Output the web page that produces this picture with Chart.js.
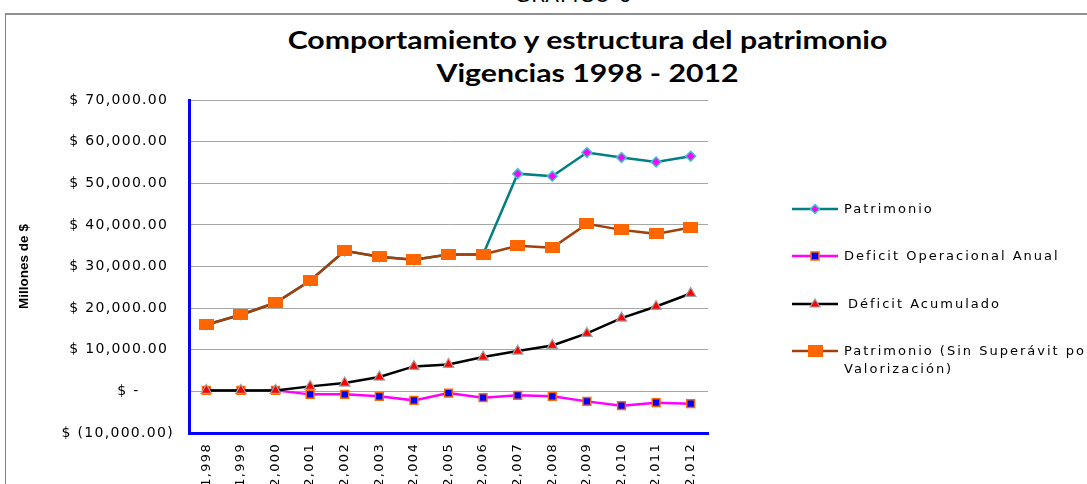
<!DOCTYPE html>
<html><head><meta charset="utf-8">
<script src="https://cdn.jsdelivr.net/npm/chart.js@4"></script>
<style>
html,body{margin:0;padding:0;background:#fff;overflow:hidden;}
#wrap{position:relative;width:1087px;height:484px;overflow:hidden;}
#frame{position:absolute;left:5px;top:13px;width:1100px;height:500px;border-left:1px solid #808080;border-top:2px solid #909090;}
#top{position:absolute;left:0;width:1087px;top:-17px;text-align:center;font:20px "DejaVu Sans";color:#000;letter-spacing:1px;padding-left:60px;box-sizing:border-box;}
.title{position:absolute;left:237px;width:701px;text-align:center;font:bold 24px Lato;color:#000;transform:scaleX(1.26);transform-origin:50% 50%;white-space:nowrap;}
canvas{position:absolute;left:0;top:0;}
.leg{position:absolute;left:792px;font:13px "DejaVu Sans";color:#000;letter-spacing:2px;white-space:nowrap;line-height:18px;}
.leg svg{position:absolute;left:0;top:1px;}
.leg span{position:absolute;left:52px;top:0;}
</style></head>
<body><div id="wrap">
<div id="frame"></div>
<div id="top">GRAFICO 6</div>
<div class="title" style="top:25px">Comportamiento y estructura del patrimonio</div>
<div class="title" style="top:58px">Vigencias 1998 - 2012</div>
<canvas id="c" width="1087" height="484"></canvas>
<div class="leg" style="top:200px"><svg width="46" height="16"><line x1="0" y1="8" x2="46" y2="8" stroke="#008080" stroke-width="2.5"/><polygon points="23,3.5 27.5,8 23,12.5 18.5,8" fill="#ff00ff" stroke="#33cccc" stroke-width="1.5"/></svg><span>Patrimonio</span></div>
<div class="leg" style="top:247px"><svg width="46" height="16"><line x1="0" y1="8" x2="46" y2="8" stroke="#ff00ff" stroke-width="2.5"/><rect x="19" y="4" width="8" height="8" fill="#0000ff" stroke="#ff6600" stroke-width="1.5"/></svg><span>Deficit Operacional Anual</span></div>
<div class="leg" style="top:295px"><svg width="46" height="16"><line x1="0" y1="8" x2="46" y2="8" stroke="#000" stroke-width="2.5"/><polygon points="23,3 28,11 18,11" fill="#ff0000" stroke="#a0a0a0" stroke-width="1.2"/></svg><span style="left:56px">Déficit Acumulado</span></div>
<div class="leg" style="top:342px"><svg width="46" height="16"><line x1="0" y1="8" x2="46" y2="8" stroke="#a0410d" stroke-width="2.5"/><rect x="16" y="2" width="15" height="12" fill="#ff6600"/></svg><span>Patrimonio (Sin Superávit po<br>Valorización)</span></div>
</div>
<script>
const categories = ['1,998','1,999','2,000','2,001','2,002','2,003','2,004','2,005','2,006','2,007','2,008','2,009','2,010','2,011','2,012'];
const patrimonio = [16000,18400,21280,26560,33760,32320,31600,32880,32880,52300,51700,57400,56200,55100,56500];
const deficitOperacional = [240,240,240,-720,-720,-1200,-2160,-400,-1520,-960,-1200,-2400,-3440,-2720,-2960];
const deficitAcumulado = [240,240,240,1200,2000,3440,6000,6480,8240,9680,11040,13920,17600,20400,23520];
const patrimonioSinSuperavit = [16000,18400,21280,26560,33760,32320,31600,32880,32880,34960,34480,40240,38800,37840,39360];
const yTickValues = [-10000,0,10000,20000,30000,40000,50000,60000,70000];
const yTickLabels = ['$ (10,000.00)','$ -      ','$ 10,000.00 ','$ 20,000.00 ','$ 30,000.00 ','$ 40,000.00 ','$ 50,000.00 ','$ 60,000.00 ','$ 70,000.00 '];

// marker image for the orange rectangles (15x11)
const orangeMark = document.createElement('canvas');
orangeMark.width = 15; orangeMark.height = 11;
(function(){ const g = orangeMark.getContext('2d'); g.fillStyle = '#ff6600'; g.fillRect(0,0,15,11); })();

const spacing = {
  id:'spacing',
  beforeUpdate(chart){ chart.ctx.letterSpacing = '1.3px'; },
  beforeDraw(chart){
    chart.ctx.letterSpacing = '1.3px';
    const s = chart.scales.y;
    if (s && !s._wrappedTitle) {
      const orig = s.drawTitle.bind(s);
      s.drawTitle = function(){ chart.ctx.letterSpacing = '0px'; orig(); chart.ctx.letterSpacing = '1.3px'; };
      s._wrappedTitle = true;
    }
  }
};

new Chart(document.getElementById('c'), {
  type: 'line',
  plugins:[spacing],
  data: {
    labels: categories,
    datasets: [
      {label:'Patrimonio', data:patrimonio, borderColor:'#008080', borderWidth:2.5, pointStyle:'rectRot', pointRadius:5, pointBackgroundColor:'#ff00ff', pointBorderColor:'#33cccc', pointBorderWidth:1.5, order:3, tension:0},
      {label:'Deficit Operacional Anual', data:deficitOperacional, borderColor:'#ff00ff', borderWidth:2.5, pointStyle:'rect', pointRadius:5.5, pointBackgroundColor:'#0000ff', pointBorderColor:'#ff6600', pointBorderWidth:1.5, order:2, tension:0},
      {label:'Déficit Acumulado', data:deficitAcumulado, borderColor:'#000000', borderWidth:2.5, pointStyle:'triangle', pointRadius:6, pointBackgroundColor:'#ff0000', pointBorderColor:'#a0a0a0', pointBorderWidth:1.2, order:1, tension:0},
      {label:'Patrimonio (Sin Superávit po Valorización)', data:patrimonioSinSuperavit, borderColor:'#a0410d', borderWidth:2.5, pointStyle:orangeMark, pointRadius:8, order:0, tension:0}
    ]
  },
  options: {
    responsive:false, animation:false,
    layout:{padding:{left:12, top:100, right:379, bottom:0}},
    plugins:{legend:{display:false}, title:{display:false}, tooltip:{enabled:false}},
    scales:{
      x:{
        offset:true,
        grid:{display:false, drawTicks:false},
        border:{color:'#0000ff', width:3},
        ticks:{maxRotation:90, minRotation:90, padding:10, autoSkip:false, color:'#000', font:{family:'DejaVu Sans', size:13}},
        afterFit:(s)=>{s.height = 51;}
      },
      y:{
        min:-10000, max:70000,
        afterBuildTicks:(s)=>{s.ticks = yTickValues.map(v=>({value:v}));},
        grid:{color:'#a6a6a6', lineWidth:1, drawTicks:false},
        border:{color:'#0000ff', width:3},
        ticks:{padding:15, color:'#000', font:{family:'DejaVu Sans', size:14}, callback:(v)=>yTickLabels[yTickValues.indexOf(v)]},
        title:{display:true, text:'Millones de $', color:'#000', font:{family:'Liberation Sans', size:13.5, weight:'bold'}, padding:{top:4,bottom:4}},
        afterFit:(s)=>{s.width = 177;}
      }
    }
  }
});
</script>
</body></html>
